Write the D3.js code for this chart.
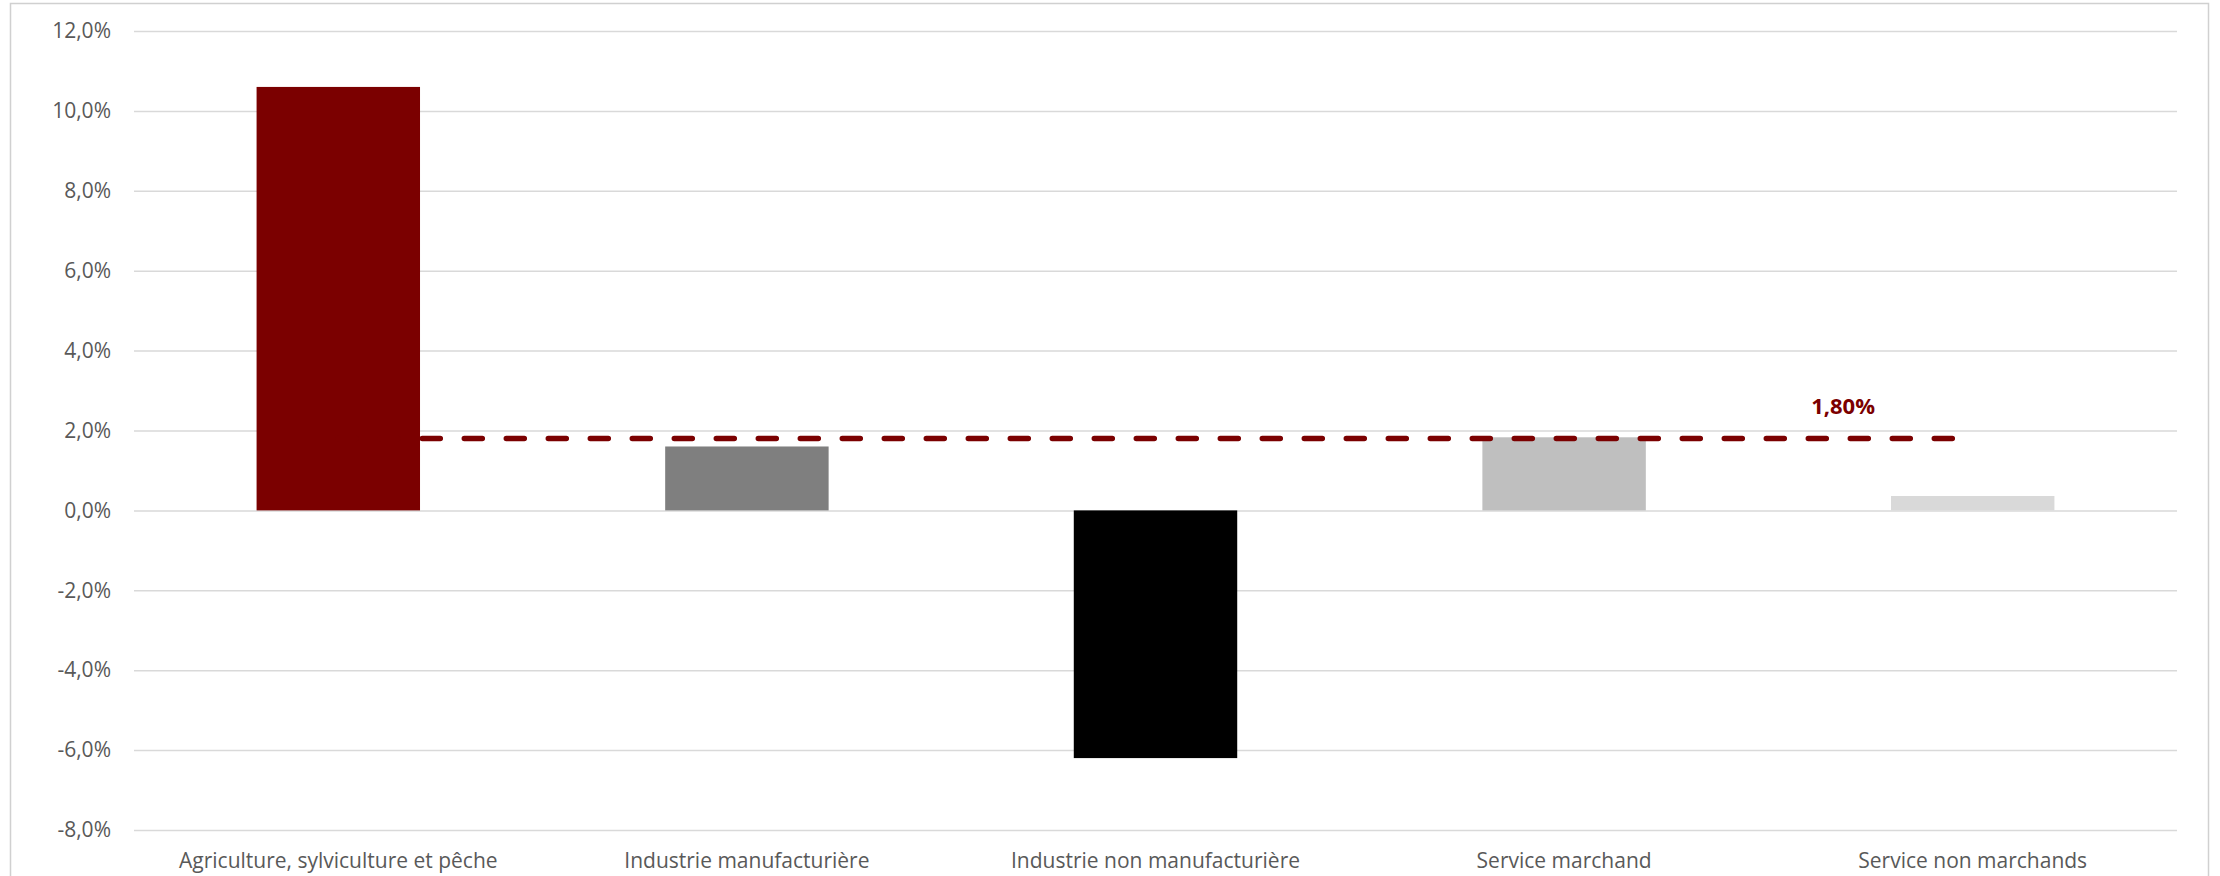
<!DOCTYPE html>
<html>
<head>
<meta charset="utf-8">
<script src="https://cdn.jsdelivr.net/npm/d3@7"></script>
<style>
  body { margin: 0; background: #fff; }
  text { font-family: "Open Sans", sans-serif; }
</style>
</head>
<body>
<div id="chart"></div>
<script>
// data
var categories = ["Agriculture, sylviculture et pêche", "Industrie manufacturière",
  "Industrie non manufacturière", "Service marchand", "Service non marchands"];
var values = [10.6, 1.6, -6.2, 1.83, 0.36];
var barColors = ["#7b0000", "#7f7f7f", "#000000", "#bfbfbf", "#d9d9d9"];
var averageValue = 1.8;
var averageLabel = "1,80%";
var yTicks = [-8, -6, -4, -2, 0, 2, 4, 6, 8, 10, 12];

var svgWidth = 2220;
var svgHeight = 876;

var margin = { top: 31, right: 43, bottom: 46, left: 134 };
var width = svgWidth - margin.left - margin.right;
var height = svgHeight - margin.top - margin.bottom;

var svg = d3.select("#chart")
  .append("svg")
  .attr("width", svgWidth)
  .attr("height", svgHeight);

// chart frame
svg.append("rect")
  .attr("x", 10.5)
  .attr("y", 3.5)
  .attr("width", 2198)
  .attr("height", 900)
  .attr("fill", "none")
  .attr("stroke", "#d0d0d0")
  .attr("stroke-width", 1.5);

var chartGroup = svg.append("g")
  .attr("transform", `translate(${margin.left}, ${margin.top})`);

var xScale = d3.scaleBand()
  .domain(categories)
  .range([0, width])
  .paddingInner(0.6)
  .paddingOuter(0.3);

var yScale = d3.scaleLinear()
  .domain([-8, 12])
  .range([height, 0]);

// gridlines + tick labels
var fmt = d => d3.format(".1f")(d).replace(".", ",").replace("−", "-") + "%";
var leftAxis = d3.axisLeft(yScale)
  .tickValues(yTicks)
  .tickSize(-width)
  .tickPadding(23)
  .tickFormat(fmt);

var yAxis = chartGroup.append("g").call(leftAxis);
yAxis.select(".domain").remove();
yAxis.selectAll("line").attr("stroke", "#d9d9d9").attr("stroke-width", 1.5);
yAxis.selectAll("text")
  .attr("fill", "#595959")
  .attr("font-size", "21px")
  .style("font-family", "'Open Sans', sans-serif");

// bars
chartGroup.selectAll("rect.bar")
  .data(values)
  .enter()
  .append("rect")
  .attr("class", "bar")
  .attr("x", (d, i) => xScale(categories[i]))
  .attr("y", d => yScale(Math.max(0, d)))
  .attr("width", xScale.bandwidth())
  .attr("height", d => Math.abs(yScale(d) - yScale(0)))
  .attr("fill", (d, i) => barColors[i]);

// category labels
var bottomAxis = d3.axisBottom(xScale).tickSize(0).tickPadding(0);
var xAxis = chartGroup.append("g")
  .attr("transform", `translate(0, ${height})`)
  .call(bottomAxis);
xAxis.select(".domain").remove();
xAxis.selectAll("text")
  .attr("fill", "#595959")
  .attr("font-size", "21px")
  .attr("dy", "1.8em")
  .style("font-family", "'Open Sans', sans-serif");

// average dashed line across categories
var line = d3.line()
  .x(d => xScale(d) + xScale.bandwidth() / 2)
  .y(() => yScale(averageValue));

chartGroup.append("path")
  .datum([categories[0], categories[categories.length - 1]])
  .attr("d", line)
  .attr("fill", "none")
  .attr("stroke", "#7b0000")
  .attr("stroke-width", 5.5)
  .attr("stroke-linecap", "round")
  .attr("stroke-dasharray", "18 24");

// average label
chartGroup.append("text")
  .attr("x", xScale(categories[3]) + xScale.bandwidth() / 2 + 279)
  .attr("y", yScale(averageValue) - 24)
  .attr("text-anchor", "middle")
  .attr("font-size", "22px")
  .attr("font-weight", "bold")
  .attr("fill", "#7b0000")
  .text(averageLabel);
</script>
</body>
</html>
